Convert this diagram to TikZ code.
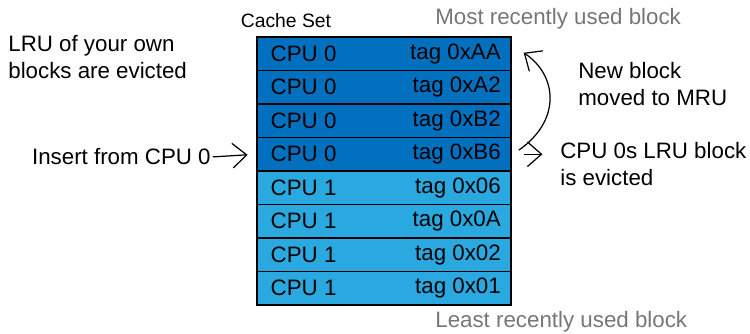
\documentclass[tikz,border=0pt]{standalone}
\usepackage{fontspec}
\setmainfont{Liberation Sans}
\usepackage{tikz}
\usetikzlibrary{arrows.meta,positioning}

\definecolor{ownblue}{HTML}{0070BF}
\definecolor{otherblue}{HTML}{29A9E0}
\definecolor{notegray}{HTML}{767676}

\tikzset{
    txt/.style={inner sep=0pt, font=\fontsize{12.7}{15.5}\selectfont, align=left},
    way/.style={draw, line width=0.8pt, minimum width=5.08cm, minimum height=0.67cm, inner sep=0pt},
    tip/.style={-{Straight Barb[length=8pt,width=14pt]}, line width=0.7pt}
}

\begin{document}
\begin{tikzpicture}[x=0.02cm, y=-0.02cm]
        \useasboundingbox (0,0) rectangle (750,334);

        % Define the ways of the set
        \foreach \i/\cpu/\tag/\col in {1/0/AA/ownblue, 2/0/A2/ownblue, 3/0/B2/ownblue, 4/0/B6/ownblue,
                                      5/1/06/otherblue, 6/1/0A/otherblue, 7/1/02/otherblue, 8/1/01/otherblue} {
            \node [way, fill=\col] (r\i) at (384, {37 + 33.5*(\i - 0.5)}) {};
            \node [txt, right=8pt of r\i.west] (c\i) {CPU \cpu};
            \node [txt, left=6pt of r\i.east] (t\i) {tag 0x\tag};
        }

        % Labels round the set
        \node [txt, font=\fontsize{11}{13}\selectfont, anchor=south] (set) at (286,28) {Cache Set};
        \node [txt, text=notegray, anchor=west] (mru) at (435,19) {Most recently used block};
        \node [txt, text=notegray, anchor=west] (lru) at (435,322) {Least recently used block};
        \node [txt, anchor=north west] (own) at (8,35) {LRU of your own\\blocks are evicted};
        \node [txt, anchor=east] (ins) at (211,157) {Insert from CPU 0};
        \node [txt, anchor=north west] (moved) at (578,62) {New block\\moved to MRU};
        \node [txt, anchor=north west] (evict) at (560,142) {CPU 0s LRU block\\is evicted};

        % Draw arrows
        \draw [tip, shorten <=1pt, shorten >=5pt] (ins.east) -- (r4.west);
        \draw [tip, shorten <=7pt, shorten >=10pt] (r4.east) -- (r4.east -| evict.west);
        \draw [tip] ([shift={(7,-4)}]r4.east) .. controls (562,120) and (557,75) .. ([shift={(12,-1)}]r1.east);
    \end{tikzpicture}
\end{document}
